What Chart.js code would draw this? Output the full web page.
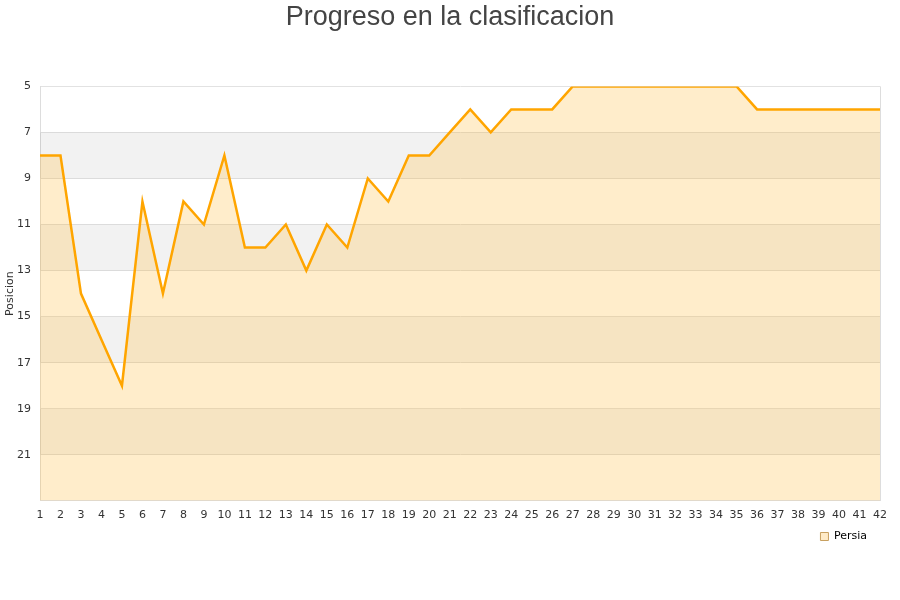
<!DOCTYPE html>
<html>
<head>
<meta charset="utf-8">
<script src="https://cdn.jsdelivr.net/npm/chart.js@4/dist/chart.umd.min.js"></script>
<style>
	body { margin: 0; background: #fff; }
	#wrap { width: 900px; height: 600px; }
</style>
</head>
<body>
<div id="wrap"><canvas id="chartContainer"></canvas></div>
<script>
const jornadas = Array.from({length: 42}, (_, i) => String(i + 1));
const posiciones = [8, 8, 14, 16, 18, 10, 14, 10, 11, 8, 12, 12, 11, 13, 11, 12, 9, 10, 8, 8,
	7, 6, 7, 6, 6, 6, 5, 5, 5, 5, 5, 5, 5, 5, 5, 6, 6, 6, 6, 6, 6, 6];
const bandas = [[7, 9], [11, 13], [15, 17], [19, 21]];
const equipo = 'Persia';
const ultimaPosicion = 23;

// franjas grises alternas detras de la serie
const bandPlugin = {
	id: 'bandas',
	beforeDatasetsDraw(chart) {
		const {ctx, chartArea, scales} = chart;
		ctx.save();
		ctx.fillStyle = 'rgba(0,0,0,0.05)';
		bandas.forEach(([a, b]) => {
			const y1 = scales.y.getPixelForValue(a);
			const y2 = scales.y.getPixelForValue(b);
			ctx.fillRect(chartArea.left, y1, chartArea.right - chartArea.left, y2 - y1);
		});
		ctx.restore();
	}
};

// titulo centrado en todo el lienzo, leyenda algo mas a la izquierda
const ajustePlugin = {
	id: 'ajuste',
	afterLayout(chart) {
		const t = chart.titleBlock;
		if (t) { t.left = 0; t.right = chart.width; t.width = chart.width; }
		const l = chart.legend;
		if (l) { l.right -= 10; l.top -= 2; l.bottom -= 2; }
	}
};

const canvas = document.getElementById('chartContainer');
// eslint-disable-next-line no-undef
new Chart(canvas, {
	type: 'line',
	data: {
		labels: jornadas,
		datasets: [{
			label: equipo,
			data: posiciones,
			borderColor: '#FFA500',
			backgroundColor: 'rgba(255,190,70,0.28)',
			borderWidth: 2.5,
			fill: {value: ultimaPosicion},
			pointRadius: 0,
			tension: 0
		}]
	},
	options: {
		responsive: true,
		maintainAspectRatio: false,
		animation: false,
		layout: {padding: {left: 0, right: 20, top: 0, bottom: 46}},
		plugins: {
			title: {
				display: true,
				text: 'Progreso en la clasificacion',
				color: '#444',
				font: {family: 'Liberation Sans', size: 27, weight: 'normal'},
				padding: {top: 1, bottom: 53}
			},
			legend: {
				position: 'bottom',
				align: 'end',
				labels: {
					boxWidth: 8,
					boxHeight: 8,
					padding: 3,
					color: '#222',
					font: {family: 'DejaVu Sans', size: 11},
					generateLabels: () => [{
						text: equipo,
						fillStyle: '#FFEBC8',
						strokeStyle: '#C8A060',
						lineWidth: 1
					}]
				}
			},
			tooltip: {enabled: false}
		},
		scales: {
			x: {
				offset: false,
				grid: {display: false, drawTicks: false},
				border: {color: '#ddd'},
				ticks: {
					autoSkip: false,
					maxRotation: 0,
					color: '#333',
					padding: 8,
					font: {family: 'DejaVu Sans', size: 11}
				}
			},
			y: {
				reverse: true,
				min: 5,
				max: ultimaPosicion,
				afterFit: scale => { scale.width = 40; },
				title: {
					display: true,
					text: 'Posicion',
					color: '#333',
					padding: {top: 4, bottom: 0},
					font: {family: 'DejaVu Sans', size: 11}
				},
				grid: {color: '#e2e2e2', drawTicks: false},
				border: {color: '#ddd'},
				ticks: {
					stepSize: 2,
					color: '#333',
					padding: 9,
					font: {family: 'DejaVu Sans', size: 11},
					callback: v => (v === ultimaPosicion ? '' : v)
				}
			}
		}
	},
	plugins: [bandPlugin, ajustePlugin, {
		id: 'marcoDerecho',
		afterDraw(chart) {
			const {ctx, chartArea} = chart;
			ctx.save();
			ctx.strokeStyle = '#ddd';
			ctx.lineWidth = 1;
			ctx.beginPath();
			ctx.moveTo(chartArea.right + 0.5, chartArea.top);
			ctx.lineTo(chartArea.right + 0.5, chartArea.bottom);
			ctx.stroke();
			ctx.restore();
		}
	}]
});
</script>
</body>
</html>
